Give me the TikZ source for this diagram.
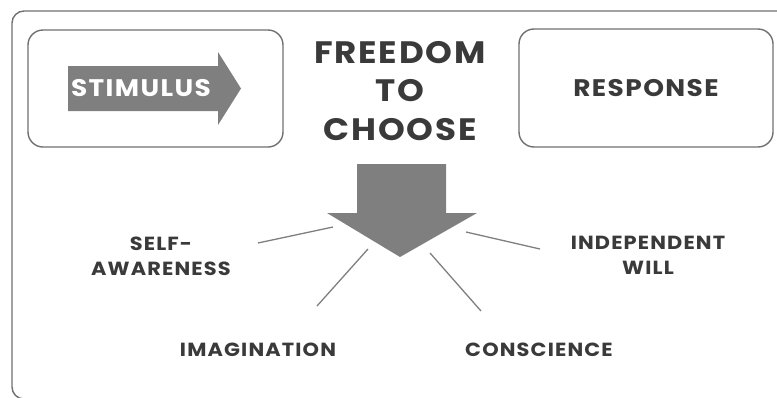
\documentclass[tikz,border=0pt]{standalone}
\usepackage{fontspec}
\setmainfont{Poppins}
\newfontfamily\capsfont[LetterSpace=6, FakeStretch=1.1]{Poppins}
\usepackage{tikz}
\definecolor{ink}{HTML}{3A3A3A}
\definecolor{frame}{HTML}{707070}
\definecolor{arrowgray}{HTML}{7F7F7F}
\tikzstyle{panel}=[draw=frame, line width=1.4pt, rounded corners=15pt]
\tikzstyle{word}=[text=ink, align=center, inner sep=0pt, font=\capsfont\bfseries\fontsize{19}{25}\selectfont]
\tikzstyle{boxword}=[word, font=\capsfont\bfseries\fontsize{24}{28}\selectfont]
\tikzstyle{bigword}=[word, font=\capsfont\bfseries\fontsize{31}{38.5}\selectfont]
\tikzstyle{spoke}=[draw=arrowgray, line width=1.3pt]

\begin{document}
\begin{tikzpicture}[x=1pt, y=-1pt]
        \useasboundingbox (0, 0) rectangle (777, 397);
        \draw[panel, rounded corners=12pt] (12, 11) rectangle (800, 399);
        \draw[panel] (28, 30) rectangle (283, 147);
        \draw[panel] (519, 29) rectangle (773, 147);
        % stimulus arrow
        \fill[arrowgray] (68, 66) -- (218, 66) -- (218, 52) -- (241, 88.5)
            -- (218, 125) -- (218, 111) -- (68, 111) -- cycle;
        \node[boxword, text=white] (S) at (141, 88.5) {STIMULUS};
        \node[boxword]             (R) at (646, 88) {RESPONSE};
        \node[bigword] (F) at (400, 91) {FREEDOM\\TO\\CHOOSE};
        % choice arrow
        \fill[arrowgray] (357, 164) -- (446, 164) -- (446, 213) -- (477, 213)
            -- (400, 257) -- (327, 213) -- (357, 213) -- cycle;
        \node[word] (W1) at (161, 256) {SELF-\\AWARENESS};
        \node[word] (W2) at (258, 350) {IMAGINATION};
        \node[word] (W3) at (539, 350) {CONSCIENCE};
        \node[word] (W4) at (648, 255) {INDEPENDENT\\WILL};
        \coordinate (a1) at (258, 243);
        \coordinate (b1) at (333, 227);
        \coordinate (a2) at (317, 306);
        \coordinate (b2) at (368, 249);
        \coordinate (a3) at (481, 311);
        \coordinate (b3) at (430, 253);
        \coordinate (a4) at (540, 249);
        \coordinate (b4) at (466, 232);
        \draw[spoke] (a1) -- (b1);
        \draw[spoke] (a2) -- (b2);
        \draw[spoke] (a3) -- (b3);
        \draw[spoke] (a4) -- (b4);
    \end{tikzpicture}
\end{document}
